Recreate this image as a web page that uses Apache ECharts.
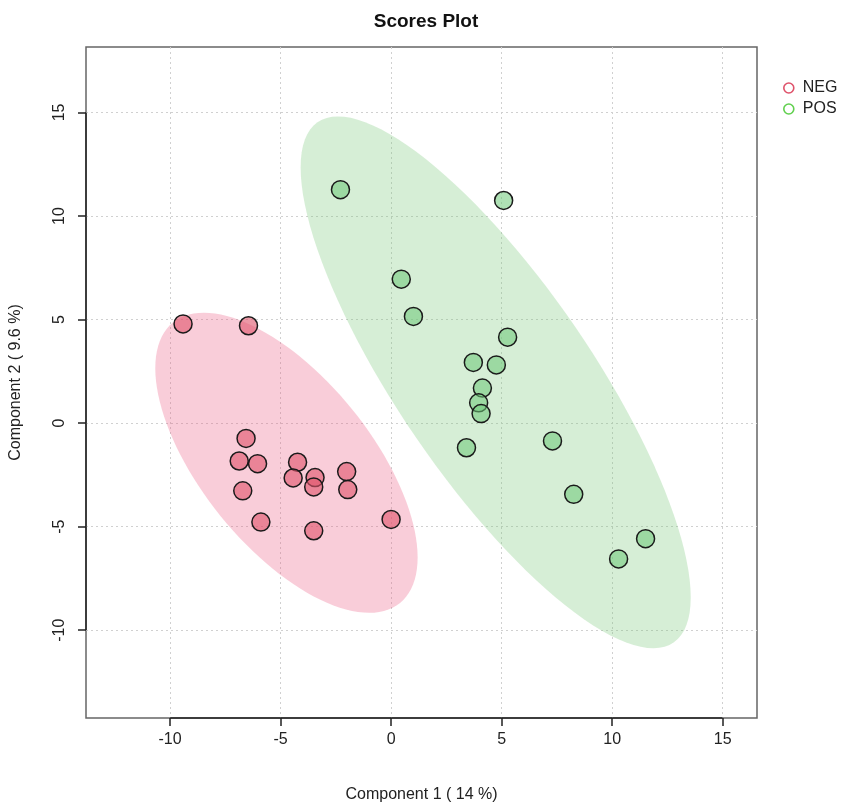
<!DOCTYPE html>
<html lang="en">
<head>
  <meta charset="UTF-8">
  <title>Scores Plot</title>
  <style>
    html, body { margin: 0; padding: 0; background: #fff; }
    #chart { width: 851px; height: 812px; }
  </style>
</head>
<body>
  <div id="chart"></div>

  <script src="https://cdn.jsdelivr.net/npm/echarts@6/dist/echarts.min.js"></script>
  <script>
    // scores
    const negX = [-9.41, -6.45, -6.56, -6.87, -6.04, -4.23, -4.43, -3.44, -3.50, -2.01, -1.96, -6.71, -5.89, -3.50, 0.0];
    const negY = [4.79, 4.70, -0.74, -1.83, -1.96, -1.89, -2.65, -2.63, -3.08, -2.34, -3.21, -3.27, -4.78, -5.20, -4.65];
    const posX = [-2.29, 5.09, 0.46, 1.01, 5.27, 3.72, 4.76, 4.13, 3.96, 4.07, 3.41, 7.30, 8.26, 10.29, 11.51];
    const posY = [11.27, 10.75, 6.95, 5.15, 4.15, 2.93, 2.81, 1.69, 0.98, 0.46, -1.19, -0.86, -3.44, -6.56, -5.58];

    const xTicks = [-10, -5, 0, 5, 10, 15];
    const yTicks = [-10, -5, 0, 5, 10, 15];

    const font = 'Liberation Sans, Arial, sans-serif';

    // 95% data ellipse from the sample covariance (like R's ellipse())
    function dataEllipse(xs, ys, nPts) {
      const n = xs.length;
      const mx = xs.reduce((a, b) => a + b, 0) / n;
      const my = ys.reduce((a, b) => a + b, 0) / n;
      let sxx = 0, syy = 0, sxy = 0;
      for (let i = 0; i < n; i++) {
        sxx += (xs[i] - mx) * (xs[i] - mx);
        syy += (ys[i] - my) * (ys[i] - my);
        sxy += (xs[i] - mx) * (ys[i] - my);
      }
      sxx /= n - 1; syy /= n - 1; sxy /= n - 1;
      const t = Math.sqrt(5.991464547); // qchisq(0.95, 2)
      // cholesky of cov
      const l11 = Math.sqrt(sxx);
      const l21 = sxy / l11;
      const l22 = Math.sqrt(syy - l21 * l21);
      const pts = [];
      for (let k = 0; k <= nPts; k++) {
        const a = (2 * Math.PI * k) / nPts;
        const u = Math.cos(a), v = Math.sin(a);
        pts.push([mx + t * l11 * u, my + t * (l21 * u + l22 * v)]);
      }
      return pts;
    }

    function ellipseSeries(pts, fill) {
      return {
        type: 'custom',
        silent: true,
        clip: true,
        z: 1,
        data: [0],
        renderItem: function (params, api) {
          return {
            type: 'polygon',
            shape: { points: pts.map(p => api.coord(p)) },
            style: { fill: fill, stroke: null }
          };
        }
      };
    }

    // R-style axis line running only from the first to the last tick
    function axisSegments() {
      return {
        type: 'custom',
        silent: true,
        clip: false,
        z: 4,
        data: [0],
        renderItem: function (params, api) {
          const b = params.coordSys;
          const x0 = api.coord([xTicks[0], 0])[0];
          const x1 = api.coord([xTicks[xTicks.length - 1], 0])[0];
          const y0 = api.coord([0, yTicks[0]])[1];
          const y1 = api.coord([0, yTicks[yTicks.length - 1]])[1];
          const st = { stroke: '#222', lineWidth: 1.5 };
          return {
            type: 'group',
            children: [
              { type: 'line', shape: { x1: x0, y1: b.y + b.height, x2: x1, y2: b.y + b.height }, style: st },
              { type: 'line', shape: { x1: b.x, y1: y0, x2: b.x, y2: y1 }, style: st }
            ]
          };
        }
      };
    }

    const zip = (a, b) => a.map((v, i) => [v, b[i]]);

    const chart = echarts.init(document.getElementById('chart'));

    const axisCommon = {
      type: 'value',
      axisLine: { show: false, onZero: false },
      axisTick: { show: true, inside: false, length: 8, lineStyle: { color: '#222', width: 1.5 } },
      axisLabel: { color: '#222', fontSize: 16, fontFamily: font },
      splitLine: { show: true, lineStyle: { color: '#d0d0d0', type: [2, 3], width: 1 } },
      nameLocation: 'middle',
      nameTextStyle: { color: '#222', fontSize: 16, fontFamily: font }
    };

    chart.setOption({
      animation: false,
      backgroundColor: '#fff',
      title: {
        text: 'Scores Plot',
        left: 421, top: 7, textAlign: 'center',
        textStyle: { fontSize: 19, fontWeight: 'bold', color: '#111', fontFamily: font }
      },
      legend: {
        orient: 'vertical',
        left: 778, top: 75,
        itemWidth: 10, itemHeight: 10, itemGap: 5,
        icon: 'circle',
        textStyle: { fontSize: 16, color: '#222', fontFamily: font, padding: [0, 0, 0, 4] },
        data: [
          { name: 'NEG', itemStyle: { color: '#fff', borderColor: '#DF536B', borderWidth: 1.6 } },
          { name: 'POS', itemStyle: { color: '#fff', borderColor: '#61D04F', borderWidth: 1.6 } }
        ]
      },
      grid: {
        left: 86, top: 47, right: 94, bottom: 94,
        outerBoundsMode: 'none', containLabel: false,
        show: true, borderColor: '#666', borderWidth: 1.5, backgroundColor: 'transparent'
      },
      xAxis: Object.assign({}, axisCommon, {
        min: -13.8, max: 16.55,
        name: 'Component 1 ( 14 %)', nameGap: 69,
        axisTick: Object.assign({}, axisCommon.axisTick, { customValues: xTicks }),
        axisLabel: Object.assign({}, axisCommon.axisLabel, { customValues: xTicks, margin: 14 })
      }),
      yAxis: Object.assign({}, axisCommon, {
        min: -14.24, max: 18.16,
        name: 'Component 2 ( 9.6 %)', nameGap: 62, nameRotate: 90,
        axisTick: Object.assign({}, axisCommon.axisTick, { customValues: yTicks }),
        axisLabel: Object.assign({}, axisCommon.axisLabel, { customValues: yTicks, rotate: 90, margin: 18 })
      }),
      series: [
        ellipseSeries(dataEllipse(negX, negY, 120), 'rgba(235,90,130,0.3)'),
        ellipseSeries(dataEllipse(posX, posY, 120), 'rgba(120,200,120,0.3)'),
        axisSegments(),
        {
          name: 'NEG', type: 'scatter', z: 3,
          symbol: 'circle', symbolSize: 18,
          itemStyle: { color: 'rgba(223,83,107,0.6)', borderColor: '#1a1a1a', borderWidth: 1.5, opacity: 1 },
          data: zip(negX, negY)
        },
        {
          name: 'POS', type: 'scatter', z: 3,
          symbol: 'circle', symbolSize: 18,
          itemStyle: { color: 'rgba(110,200,120,0.55)', borderColor: '#1a1a1a', borderWidth: 1.5, opacity: 1 },
          data: zip(posX, posY)
        }
      ]
    });
  </script>
</body>
</html>
